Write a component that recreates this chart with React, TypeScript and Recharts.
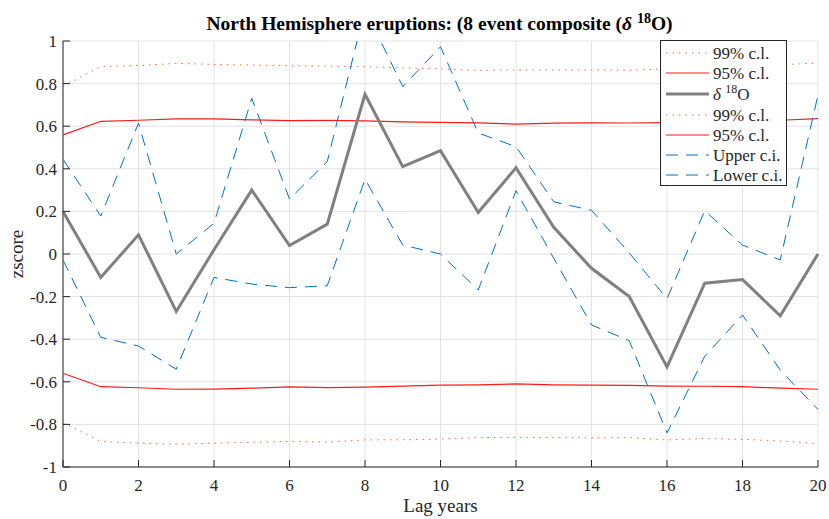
import { LineChart, Line, XAxis, YAxis, CartesianGrid, Legend } from "recharts";

const lags = [0, 1, 2, 3, 4, 5, 6, 7, 8, 9, 10, 11, 12, 13, 14, 15, 16, 17, 18, 19, 20];
const xTicks = [0, 2, 4, 6, 8, 10, 12, 14, 16, 18, 20];
const yTicks = [-1, -0.8, -0.6, -0.4, -0.2, 0, 0.2, 0.4, 0.6, 0.8, 1];

const cl99Upper = [0.786, 0.88, 0.885, 0.895, 0.89, 0.887, 0.884, 0.882, 0.879, 0.874, 0.869, 0.862, 0.864, 0.864, 0.864, 0.862, 0.87, 0.875, 0.88, 0.888, 0.897];
const cl95Upper = [0.559, 0.623, 0.628, 0.634, 0.634, 0.63, 0.626, 0.627, 0.625, 0.62, 0.618, 0.616, 0.61, 0.614, 0.616, 0.615, 0.617, 0.619, 0.622, 0.628, 0.636];
const delta18O = [0.2, -0.11, 0.09, -0.27, 0.02, 0.3, 0.04, 0.14, 0.75, 0.41, 0.485, 0.195, 0.405, 0.125, -0.067, -0.2, -0.53, -0.137, -0.12, -0.29, 0.0];
const cl99Lower = [-0.792, -0.88, -0.888, -0.893, -0.888, -0.884, -0.88, -0.883, -0.873, -0.872, -0.869, -0.862, -0.861, -0.862, -0.863, -0.862, -0.873, -0.866, -0.87, -0.878, -0.89];
const cl95Lower = [-0.56, -0.623, -0.628, -0.635, -0.634, -0.63, -0.624, -0.627, -0.625, -0.62, -0.616, -0.614, -0.61, -0.614, -0.616, -0.617, -0.62, -0.621, -0.623, -0.63, -0.635];
const upperCI = [0.445, 0.178, 0.614, 0.0, 0.144, 0.731, 0.258, 0.434, 1.15, 0.786, 0.973, 0.568, 0.504, 0.245, 0.205, 0.005, -0.21, 0.203, 0.042, -0.028, 0.746];
const lowerCI = [-0.028, -0.391, -0.432, -0.541, -0.11, -0.141, -0.158, -0.149, 0.351, 0.042, 0.0, -0.169, 0.297, -0.02, -0.333, -0.407, -0.84, -0.48, -0.286, -0.545, -0.73];

const rows = lags.map((lag, i) => ({
  lag,
  c99u: cl99Upper[i],
  c95u: cl95Upper[i],
  d18o: delta18O[i],
  c99l: cl99Lower[i],
  c95l: cl95Lower[i],
  upper: upperCI[i],
  lower: lowerCI[i],
}));

const ORANGE = "#f0683c";
const RED = "#ff1a1a";
const GRAY = "#808080";
const BLUE = "#0072bd";
const AXIS = "#6a6a6a";
const TEXT = "#262626";
const FONT = '"Liberation Serif", "Times New Roman", serif';

const series = [
  { key: "c99u", label: "99% c.l.", color: ORANGE, width: 1, dash: "1.5 5" },
  { key: "c95u", label: "95% c.l.", color: RED, width: 1.2, dash: undefined },
  { key: "d18o", label: "d18o", color: GRAY, width: 3, dash: undefined },
  { key: "c99l", label: "99% c.l.", color: ORANGE, width: 1, dash: "1.5 5" },
  { key: "c95l", label: "95% c.l.", color: RED, width: 1.2, dash: undefined },
  { key: "upper", label: "Upper c.i.", color: BLUE, width: 1, dash: "12 8" },
  { key: "lower", label: "Lower c.i.", color: BLUE, width: 1, dash: "12 8" },
];

function BottomTick(props: any) {
  const { x, y, payload } = props;
  return (
    <g>
      <line x1={x} y1={y} x2={x} y2={y - 7} stroke={TEXT} strokeWidth={1} />
      <text x={x} y={y + 24} textAnchor="middle" fontSize={17} fill={TEXT} fontFamily={FONT}>
        {payload.value}
      </text>
    </g>
  );
}

function LeftTick(props: any) {
  const { x, y, payload } = props;
  return (
    <g>
      <line x1={x} y1={y} x2={x + 7} y2={y} stroke={TEXT} strokeWidth={1} />
      <text x={x - 6} y={y + 6} textAnchor="end" fontSize={17} fill={TEXT} fontFamily={FONT}>
        {payload.value}
      </text>
    </g>
  );
}

function TopTick(props: any) {
  const { x, y } = props;
  return <line x1={x} y1={y} x2={x} y2={y + 7} stroke={TEXT} strokeWidth={1} />;
}

function RightTick(props: any) {
  const { x, y } = props;
  return <line x1={x} y1={y} x2={x - 7} y2={y} stroke={TEXT} strokeWidth={1} />;
}

function XLabel(props: any) {
  const { viewBox } = props;
  return (
    <text x={viewBox.x + viewBox.width / 2} y={viewBox.y + 45} textAnchor="middle" fontSize={19} fill={TEXT} fontFamily={FONT}>
      Lag years
    </text>
  );
}

function YLabel(props: any) {
  const { viewBox } = props;
  const cy = viewBox.y + viewBox.height / 2;
  return (
    <text x={23} y={cy} transform={`rotate(-90 23 ${cy})`} textAnchor="middle" fontSize={19} fill={TEXT} fontFamily={FONT}>
      zscore
    </text>
  );
}

function LegendBox() {
  return (
    <div
      style={{
        background: "#fff",
        border: `1px solid ${TEXT}`,
        padding: "2px 0 0 0",
        fontFamily: FONT,
        fontSize: 17,
        color: TEXT,
        boxSizing: "border-box",
        width: 127,
      }}
    >
      {series.map((s) => (
        <div key={s.key} style={{ display: "flex", alignItems: "center", height: s.key === "d18o" ? 22 : 20 }}>
          <svg width={52} height={12} style={{ flexShrink: 0 }}>
            <line x1={5} y1={6} x2={48} y2={6} stroke={s.color} strokeWidth={s.width} strokeDasharray={s.dash} />
          </svg>
          <span style={{ whiteSpace: "nowrap", lineHeight: 1 }}>
            {s.key === "d18o" ? (
              <>
                <i>δ</i> <span style={{ fontSize: 12, verticalAlign: 7, lineHeight: 0 }}>18</span>O
              </>
            ) : (
              s.label
            )}
          </span>
        </div>
      ))}
    </div>
  );
}

export default function App() {
  return (
    <div style={{ position: "absolute", left: 0, top: 0, width: 829, height: 519, background: "#fff" }}>
      <div
        style={{
          position: "absolute",
          left: 0,
          width: 879,
          top: 13,
          textAlign: "center",
          fontFamily: FONT,
          fontWeight: "bold",
          fontSize: 19.5,
          color: "#000",
          whiteSpace: "nowrap",
          lineHeight: "22px",
        }}
      >
        North Hemisphere eruptions: (8 event composite (<i>δ</i>{" "}
        <span style={{ fontSize: 14, verticalAlign: 7, lineHeight: 0 }}>18</span>O)
      </div>
      <LineChart width={829} height={519} data={rows} margin={{ top: 41, right: 11, bottom: 22, left: 3 }}>
        <CartesianGrid stroke="#e2e2e2" strokeWidth={1} />
        <XAxis
          dataKey="lag"
          type="number"
          domain={[0, 20]}
          ticks={xTicks}
          interval={0}
          tickSize={0}
          tickMargin={0}
          tick={BottomTick}
          axisLine={{ stroke: AXIS, strokeWidth: 1.5 }}
          tickLine={false}
          height={30}
          label={<XLabel />}
        />
        <XAxis
          xAxisId="top"
          orientation="top"
          dataKey="lag"
          type="number"
          domain={[0, 20]}
          ticks={xTicks}
          interval={0}
          tickSize={0}
          tickMargin={0}
          tick={TopTick}
          axisLine={{ stroke: AXIS, strokeWidth: 1.5 }}
          tickLine={false}
          height={0}
        />
        <YAxis
          type="number"
          domain={[-1, 1]}
          ticks={yTicks}
          interval={0}
          allowDataOverflow
          tickSize={0}
          tickMargin={0}
          tick={LeftTick}
          axisLine={{ stroke: AXIS, strokeWidth: 1.5 }}
          tickLine={false}
          width={60}
          label={<YLabel />}
        />
        <YAxis
          yAxisId="right"
          orientation="right"
          type="number"
          domain={[-1, 1]}
          ticks={yTicks}
          interval={0}
          allowDataOverflow
          tickSize={0}
          tickMargin={0}
          tick={RightTick}
          axisLine={{ stroke: AXIS, strokeWidth: 1.5 }}
          tickLine={false}
          width={0}
        />
        <Legend
          layout="vertical"
          align="center"
          verticalAlign="middle"
          wrapperStyle={{ left: 660, top: 40, width: 127, height: "auto" }}
          content={<LegendBox />}
        />
        {series.map((s) => (
          <Line
            key={s.key}
            dataKey={s.key}
            type="linear"
            stroke={s.color}
            strokeWidth={s.width}
            strokeDasharray={s.dash}
            dot={false}
            activeDot={false}
            isAnimationActive={false}
          />
        ))}
      </LineChart>
    </div>
  );
}
